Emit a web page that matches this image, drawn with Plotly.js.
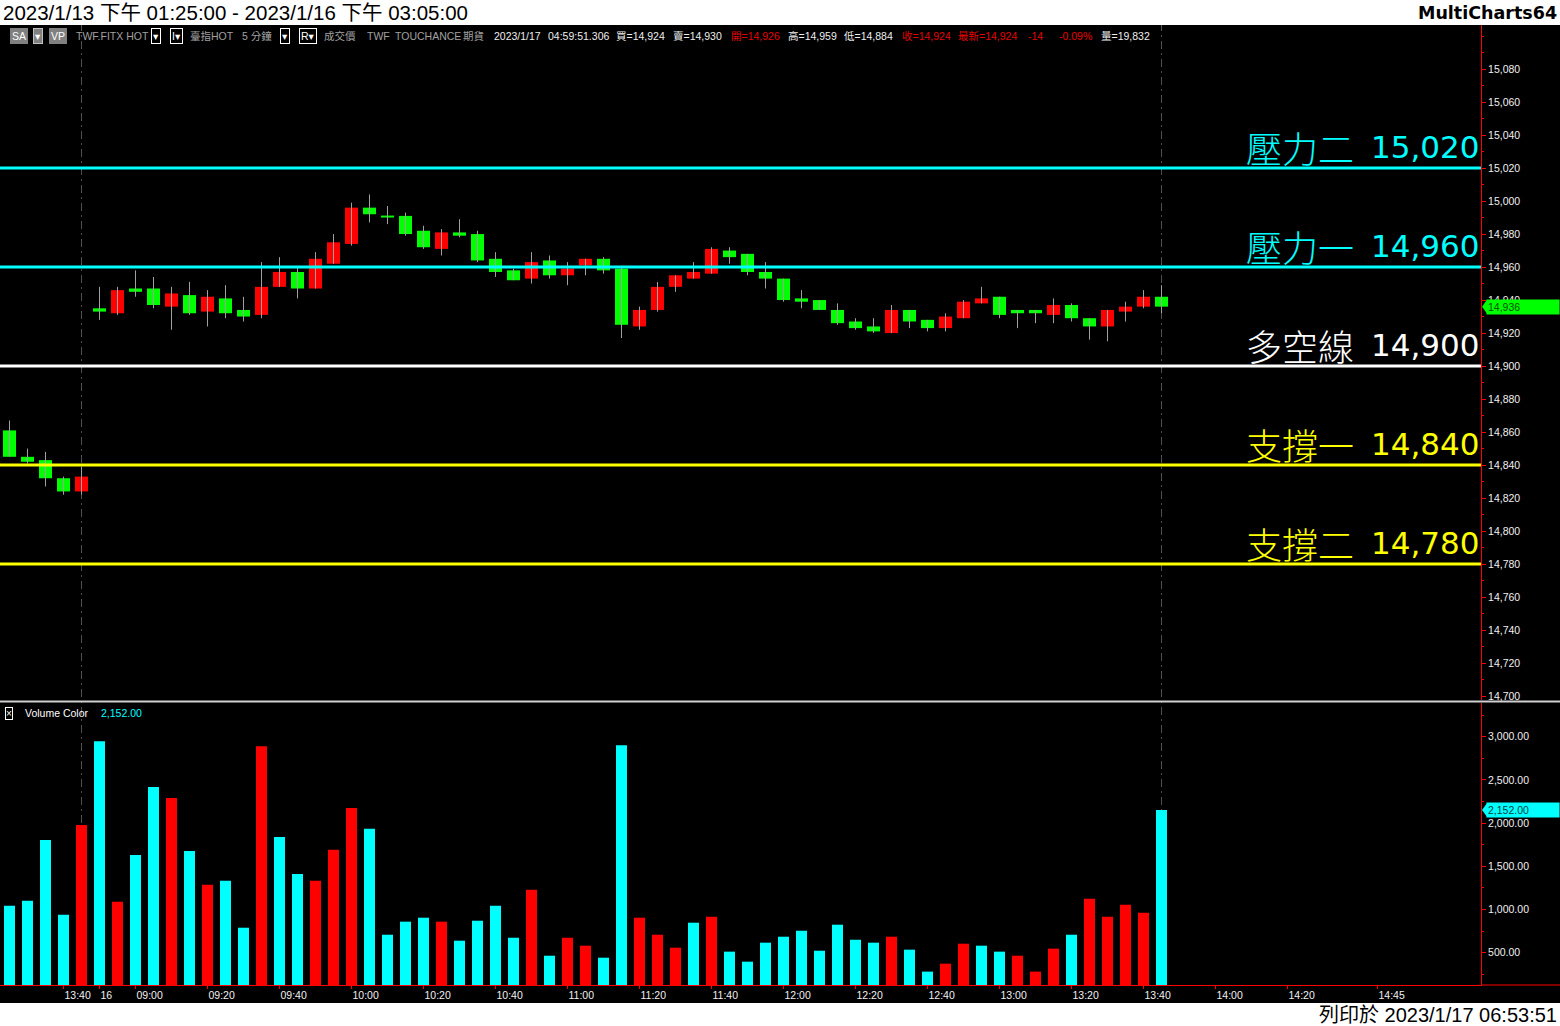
<!DOCTYPE html>
<html><head><meta charset="utf-8">
<script src="https://cdn.plot.ly/plotly-3.0.1.min.js"></script>
<style>html,body{margin:0;padding:0;background:#000;overflow:hidden}#chart{width:1560px;height:1026px}</style>
</head><body><div id="chart"></div>
<script>
// ---- data (5-minute bars, 2023/1/13 13:25 - 2023/1/16 13:45) ----
const openP  = [14861,14845,14843,14832,14824, 14935,14932,14947,14947,14936,14943,14933,14941,14934,14931,14948,14957,14947,14962,14974,14996,14991,14991,14982,14971,14981,14980,14965,14958,14953,14964,14955,14961,14965,14959,14924,14934,14948,14953,14956,14970,14968,14957,14953,14941,14940,14934,14927,14924,14920,14934,14928,14923,14929,14938,14942,14934,14934,14931,14937,14929,14924,14933,14936,14942];
const highP  = [14867,14850,14848,14833,14839, 14948,14948,14958,14954,14948,14951,14946,14949,14942,14963,14966,14960,14969,14980,14999,15004,14997,14993,14985,14983,14989,14982,14969,14959,14969,14967,14963,14965,14966,14960,14936,14951,14955,14963,14972,14972,14968,14963,14953,14946,14940,14938,14929,14929,14937,14934,14928,14932,14940,14948,14942,14934,14934,14941,14938,14929,14934,14939,14946,14949];
const lowP   = [14845,14841,14827,14822,14822, 14928,14931,14942,14935,14922,14931,14924,14929,14927,14929,14948,14941,14947,14962,14973,14987,14986,14979,14971,14967,14978,14963,14954,14952,14950,14953,14949,14955,14956,14917,14922,14933,14945,14953,14956,14962,14955,14947,14939,14935,14934,14925,14922,14920,14920,14923,14921,14921,14929,14938,14929,14923,14926,14926,14927,14916,14915,14927,14935,14932];
const closeP = [14845,14842,14832,14824,14833, 14933,14946,14945,14937,14944,14932,14942,14932,14930,14948,14957,14947,14965,14975,14996,14992,14990,14980,14972,14981,14979,14964,14957,14952,14963,14955,14959,14965,14958,14925,14934,14948,14955,14957,14971,14966,14957,14953,14940,14939,14934,14926,14923,14921,14934,14927,14923,14930,14939,14941,14931,14932,14932,14937,14929,14924,14934,14936,14942,14936];
const volume = [1043,1100,1805,939,1978, 2948,1090,1632,2417,2290,1678,1286,1332,789,2890,1840,1412,1332,1690,2175,1934,708,859,905,859,639,870,1043,673,1228,465,673,581,442,2902,905,708,558,847,916,512,396,616,685,754,523,824,650,616,685,535,281,373,604,581,512,465,281,547,708,1125,916,1055,962,2152];
// volume colour flag as drawn: c = cyan, r = red
const volFlag = ['c','c','c','c','r', 'c','r','c','c','r','c','r','c','c','r','c','c','r','r','r','c','c','c','c','r','c','c','c','c','r','c','r','r','c','c','r','r','r','c','r','c','c','c','c','c','c','c','c','c','r','c','c','r','r','c','c','r','r','r','c','r','r','r','r','c'];
const sessionEnds = [4, 64];           // bar index of 13:45 session closes
const xTickIdx  = [3,5,7,11,15,19,23,27,31,35,39,43,47,51,55,59,63,67,71,76];
const xTickText = ['13:40','16','09:00','09:20','09:40','10:00','10:20','10:40','11:00','11:20','11:40','12:00','12:20','12:40','13:00','13:20','13:40','14:00','14:20','14:45'];
const priceTicks = [14700,14720,14740,14760,14780,14800,14820,14840,14860,14880,14900,14920,14940,14960,14980,15000,15020,15040,15060,15080];
const volTicks = [500,1000,1500,2000,2500,3000];
const levelNames  = ['壓力二','壓力一','多空線','支撐一','支撐二'];
const levelValues = [15020,14960,14900,14840,14780];
const levelColors = ['#00ffff','#00ffff','#ffffff','#ffff00','#ffff00'];
const lastPrice = 14936;
const lastVolume = 2152;

// ---- helpers ----
const W = 1560, H = 1026;
const px = x => x / W;
const py = y => 1 - y / H;
const fmt = v => v.toLocaleString('en-US');
const fmt2 = v => v.toLocaleString('en-US', {minimumFractionDigits: 2, maximumFractionDigits: 2});
const FONT = 'Liberation Sans, Arial, DejaVu Sans, Noto Sans CJK TC, sans-serif';
const CJK = 'Noto Sans CJK TC, Noto Sans CJK SC, sans-serif';

const idx = openP.map((_, i) => i);
const up = idx.map(i => closeP[i] >= openP[i]);
const bodyBase = idx.map(i => Math.min(openP[i], closeP[i]));
const bodyH = idx.map(i => Math.max(Math.abs(closeP[i] - openP[i]), 1.2));
const wx = [], wy = [];
idx.forEach(i => { wx.push(i, i, null); wy.push(lowP[i], highP[i], null); });

const traces = [
  {type: 'scatter', mode: 'lines', x: wx, y: wy, xaxis: 'x', yaxis: 'y',
   line: {color: '#a0a0a0', width: 1}, hoverinfo: 'skip'},
  {type: 'bar', x: idx, y: bodyH, base: bodyBase, xaxis: 'x', yaxis: 'y', width: 0.72,
   marker: {color: up.map(u => u ? '#ff0000' : '#00ff00'), line: {width: 0}}},
  {type: 'bar', x: idx, y: volume, xaxis: 'x2', yaxis: 'y2', width: 0.61,
   marker: {color: volFlag.map(f => f === 'c' ? '#00ffff' : '#ff0000'), line: {width: 0}}}
];

const XR = [-0.528, 81.75];
const XD = [0, 1481 / W];
const tickFont = {family: FONT, size: 10.5, color: '#f0f0f0'};

const shapes = [
  {type: 'rect', xref: 'paper', yref: 'paper', x0: 0, x1: 1, y0: py(25), y1: 1, fillcolor: '#ffffff', line: {width: 0}, layer: 'below'},
  {type: 'rect', xref: 'paper', yref: 'paper', x0: 0, x1: 1, y0: 0, y1: py(1003), fillcolor: '#ffffff', line: {width: 0}, layer: 'below'},
  {type: 'line', xref: 'paper', yref: 'paper', x0: 0, x1: 1, y0: py(701.5), y1: py(701.5), line: {color: '#d0d0d0', width: 2}},
  {type: 'line', xref: 'paper', yref: 'paper', x0: px(1481), x1: 1, y0: py(985), y1: py(985), line: {color: '#ff0000', width: 1}},
  {type: 'line', xref: 'paper', yref: 'paper', x0: px(1481.5), x1: px(1481.5), y0: py(700), y1: py(25), line: {color: '#ff0000', width: 1}},
];
sessionEnds.forEach(s => shapes.push({type: 'line', xref: 'x', yref: 'paper', x0: s, x1: s, y0: py(985), y1: py(25),
  line: {color: '#505050', width: 1, dash: '8px,4px,2px,4px'}, layer: 'below'}));
levelValues.forEach((v, k) => shapes.push({type: 'line', xref: 'x domain', yref: 'y', x0: 0, x1: 1, y0: v, y1: v,
  line: {color: levelColors[k], width: 3}, layer: 'above'}));
// last-value markers (arrow tips)
shapes.push({type: 'path', xref: 'paper', yref: 'y',
  path: `M ${px(1482)} ${lastPrice} L ${px(1487)} ${lastPrice + 4.2} L ${px(1487)} ${lastPrice - 4.2} Z`,
  fillcolor: '#00ff00', line: {width: 0}});
shapes.push({type: 'path', xref: 'paper', yref: 'y2',
  path: `M ${px(1482)} ${lastVolume} L ${px(1487)} ${lastVolume + 78} L ${px(1487)} ${lastVolume - 78} Z`,
  fillcolor: '#00ffff', line: {width: 0}});

const ann = [];
// title strip
ann.push({xref: 'paper', yref: 'paper', x: px(1), y: py(12.5), xanchor: 'left', yanchor: 'middle', showarrow: false,
  text: '2023/1/13 下午 01:25:00 - 2023/1/16 下午 03:05:00', font: {family: FONT, size: 20.5, color: '#000000'}});
ann.push({xref: 'paper', yref: 'paper', x: px(1559), y: py(12.5), xanchor: 'right', yanchor: 'middle', showarrow: false,
  text: '<b>MultiCharts64</b>', font: {family: 'DejaVu Sans, Verdana, sans-serif', size: 17.5, color: '#000000'}});
ann.push({xref: 'paper', yref: 'paper', x: px(1559), y: py(1015), xanchor: 'right', yanchor: 'middle', showarrow: false,
  text: '列印於 2023/1/17 06:53:51', font: {family: FONT, size: 20, color: '#000000'}});

// header info row
const GR = '#a0a0a0', WH = '#eeeeee', RD = '#e80000';
const headerItems = [
  [10, 'SA', '#ffffff', '#808080', '#808080'], [33, '▾', '#ffffff', '#808080', '#c0c0c0'], [49, 'VP', '#ffffff', '#808080', '#808080'],
  [75, 'TWF.FITX HOT', GR], [151, '▾', '#ffffff', '#000000', '#ffffff'], [170, 'I▾', '#ffffff', '#000000', '#ffffff'],
  [189, '臺指HOT', GR], [241, '5 分鐘', GR], [280, '▾', '#ffffff', '#000000', '#ffffff'], [299, 'R▾', '#ffffff', '#000000', '#ffffff'],
  [323, '成交價', GR], [366, 'TWF', GR], [394, 'TOUCHANCE', GR], [462, '期貨', GR],
  [493, '2023/1/17', WH], [547, '04:59:51.306', WH], [615, '買=14,924', WH], [672, '賣=14,930', WH],
  [730, '開=14,926', RD], [787, '高=14,959', WH], [843, '低=14,884', WH], [901, '收=14,924', RD],
  [957, '最新=14,924', RD], [1027, '-14', RD], [1058, '-0.09%', RD], [1100, '量=19,832', WH]
];
headerItems.forEach(h => {
  const a = {xref: 'paper', yref: 'paper', x: px(h[0]), y: py(36), xanchor: 'left', yanchor: 'middle', showarrow: false,
    text: h[1], font: {family: FONT, size: 10.5, color: h[2]}, borderpad: 0};
  if (h[3]) { a.bgcolor = h[3]; a.bordercolor = h[4]; a.borderwidth = 1; a.borderpad = 1; }
  ann.push(a);
});
// volume legend
ann.push({xref: 'paper', yref: 'paper', x: px(5), y: py(713), xanchor: 'left', yanchor: 'middle', showarrow: false,
  text: '×', font: {family: FONT, size: 10, color: '#ffffff'}, bordercolor: '#ffffff', borderwidth: 1, borderpad: 0});
ann.push({xref: 'paper', yref: 'paper', x: px(24), y: py(713), xanchor: 'left', yanchor: 'middle', showarrow: false,
  text: 'Volume Color', font: {family: FONT, size: 10.5, color: '#ffffff'}, borderpad: 0});
ann.push({xref: 'paper', yref: 'paper', x: px(100), y: py(713), xanchor: 'left', yanchor: 'middle', showarrow: false,
  text: fmt2(lastVolume), font: {family: FONT, size: 10.5, color: '#00ffff'}, borderpad: 0});

// level labels
levelValues.forEach((v, k) => {
  ann.push({xref: 'paper', yref: 'y', x: px(1355), y: v, xanchor: 'right', yanchor: 'bottom', yshift: -6, showarrow: false,
    text: levelNames[k], font: {family: CJK, size: 36, color: levelColors[k], weight: 300}, borderpad: 0});
  ann.push({xref: 'paper', yref: 'y', x: px(1480), y: v, xanchor: 'right', yanchor: 'bottom', yshift: 2, showarrow: false,
    text: fmt(v), font: {family: 'DejaVu Sans, Verdana, sans-serif', size: 31, color: levelColors[k]}, borderpad: 0});
});
// last value boxes
ann.push({xref: 'paper', yref: 'y', x: px(1486), y: lastPrice, xanchor: 'left', yanchor: 'middle', showarrow: false,
  text: fmt(lastPrice), align: 'left', width: 70, bgcolor: '#00ff00', borderpad: 1,
  font: {family: FONT, size: 10.5, color: '#005000'}});
ann.push({xref: 'paper', yref: 'y2', x: px(1486), y: lastVolume, xanchor: 'left', yanchor: 'middle', showarrow: false,
  text: fmt2(lastVolume), align: 'left', width: 70, bgcolor: '#00ffff', borderpad: 1,
  font: {family: FONT, size: 10.5, color: '#004040'}});

const layout = {
  width: W, height: H, margin: {l: 0, r: 0, t: 0, b: 0},
  paper_bgcolor: '#000000', plot_bgcolor: 'rgba(0,0,0,0)',
  showlegend: false, hovermode: false, dragmode: false, barmode: 'overlay',
  xaxis: {domain: XD, range: XR, anchor: 'y', showticklabels: false, showgrid: false, zeroline: false, showline: false, ticks: ''},
  yaxis: {domain: [py(700), py(25)], range: [14697.6, 15106.7], anchor: 'x', side: 'right',
    showgrid: false, zeroline: false, showline: true, linecolor: '#ff0000', linewidth: 1,
    ticks: 'outside', ticklen: 4, tickcolor: '#ff0000', tickwidth: 1,
    tickmode: 'array', tickvals: priceTicks, ticktext: priceTicks.map(fmt), tickfont: tickFont,
    minor: {tickmode: 'linear', tick0: 14700, dtick: 10, ticks: 'outside', ticklen: 2, tickcolor: '#ff0000', showgrid: false}},
  xaxis2: {domain: XD, range: XR, anchor: 'y2', showgrid: false, zeroline: false,
    showline: true, linecolor: '#ff0000', linewidth: 1, ticks: 'outside', ticklen: 3, tickcolor: '#ff0000',
    tickmode: 'array', tickvals: xTickIdx, ticktext: xTickText, ticklabelposition: 'outside right', tickfont: tickFont},
  yaxis2: {domain: [py(985), py(703)], range: [126, 3390], anchor: 'x2', side: 'right',
    showgrid: false, zeroline: false, showline: true, linecolor: '#ff0000', linewidth: 1,
    ticks: 'outside', ticklen: 4, tickcolor: '#ff0000',
    tickmode: 'array', tickvals: volTicks, ticktext: volTicks.map(fmt2), tickfont: tickFont,
    minor: {tickmode: 'linear', tick0: 0, dtick: 250, ticks: 'outside', ticklen: 2, tickcolor: '#ff0000', showgrid: false}},
  shapes: shapes, annotations: ann
};
Plotly.newPlot('chart', traces, layout, {staticPlot: true, displayModeBar: false});
</script></body></html>
